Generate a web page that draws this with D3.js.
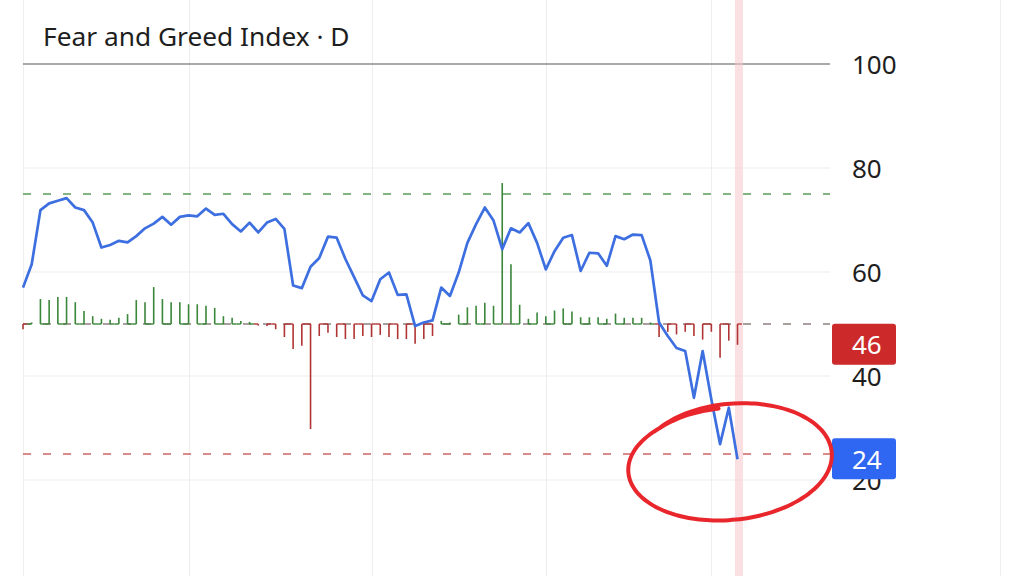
<!DOCTYPE html>
<html>
<head>
<meta charset="utf-8">
<script src="https://cdn.jsdelivr.net/npm/d3@7"></script>
<style>
	html, body { margin: 0; padding: 0; background: #fff; }
	#wrapper { width: 1024px; height: 576px; overflow: hidden; }
	text { font-family: "Noto Sans", Roboto, sans-serif; }
</style>
</head>
<body>
<div id="wrapper"></div>
<script>
/////////////////////////////////////////////////
// data /////////////////////////////////////////
/////////////////////////////////////////////////

// daily fear & greed reading (one per trading day)
const fgIndex = [
	57.0, 61.5, 71.9, 73.2, 73.7, 74.2, 72.4, 71.9, 69.5, 64.7,
	65.2, 66.0, 65.7, 66.9, 68.4, 69.3, 70.6, 69.1, 70.6, 70.9,
	70.7, 72.2, 71.0, 71.2, 69.2, 67.8, 69.5, 67.6, 69.5, 70.2,
	68.3, 57.4, 56.9, 61.0, 62.7, 66.8, 66.6, 62.5, 59.0, 55.5,
	54.4, 58.6, 59.9, 55.6, 55.7, 49.6, 50.3, 50.7, 57.0, 55.4,
	59.9, 65.6, 69.2, 72.4, 69.9, 64.4, 68.4, 67.6, 69.4, 65.6,
	60.5, 64.0, 66.6, 67.1, 60.2, 63.7, 63.6, 61.2, 66.9, 66.3,
	67.2, 67.1, 62.2, 50.3, 47.7, 45.4, 44.8, 35.8, 44.8, 35.5,
	26.9, 33.9, 24.0
];

// histogram drawn around the 50 base
const histValues = [
	49.0, 50.3, 54.8, 54.6, 55.2, 55.2, 54.2, 52.5, 51.5, 51.0,
	50.8, 51.2, 51.9, 54.6, 54.2, 57.1, 54.8, 54.2, 54.2, 53.8,
	53.8, 53.5, 53.1, 51.5, 51.2, 50.6, 50.4, 49.7, 49.6, 49.0,
	47.5, 45.2, 45.8, 29.8, 47.7, 48.3, 47.5, 47.1, 47.1, 47.7,
	47.5, 47.9, 47.5, 47.1, 47.1, 46.2, 47.1, 47.7, 50.6, 50.3,
	51.8, 53.2, 53.5, 54.1, 53.5, 77.1, 61.5, 53.7, 51.0, 52.2,
	51.5, 52.6, 53.0, 52.4, 51.3, 51.3, 51.3, 51.0, 52.0, 51.2,
	51.2, 51.2, 50.3, 47.5, 48.5, 48.0, 48.5, 47.7, 47.0, 48.5,
	43.5, 46.8, 46.0
];

const histBase = 50;
const yTicks = [0, 20, 40, 60, 80, 100];
const levels = [75, 50, 25];
const monthStarts = [0, 19, 40, 60, 79];

// hand drawn circle around the last readings (data units)
const markCenter = { i: 80.6, v: 23.9 };
const markRadius = { i: 12.4, v: 11.8 };

/////////////////////////////////////////////////
// dimensions ///////////////////////////////////
/////////////////////////////////////////////////

const dimensions = {
	width: 1024,
	height: 576,
	plotLeft: 23,
	plotRight: 830,
	lastX: 737.5
};

const wrapper = d3
	.select("#wrapper")
	.append("svg")
	.attr("width", dimensions.width)
	.attr("height", dimensions.height);

/////////////////////////////////////////////////
// scales ///////////////////////////////////////
/////////////////////////////////////////////////

const xScale = d3
	.scaleLinear()
	.domain([0, fgIndex.length - 1])
	.range([dimensions.plotLeft, dimensions.lastX]);

const yScale = d3.scaleLinear().domain([0, 100]).range([584, 64]);

const step = xScale(1) - xScale(0);

/////////////////////////////////////////////////
// grid /////////////////////////////////////////
/////////////////////////////////////////////////

wrapper
	.append("g")
	.selectAll("line")
	.data(monthStarts)
	.join("line")
	.attr("x1", (d) => Math.round(xScale(d)) + 0.5)
	.attr("x2", (d) => Math.round(xScale(d)) + 0.5)
	.attr("y1", 0)
	.attr("y2", dimensions.height)
	.attr("stroke", "#efefef")
	.attr("stroke-width", 1.2);

// right edge of the pane
wrapper
	.append("line")
	.attr("x1", 1000.5)
	.attr("x2", 1000.5)
	.attr("y1", 0)
	.attr("y2", dimensions.height)
	.attr("stroke", "#efefef")
	.attr("stroke-width", 1.2);

wrapper
	.append("g")
	.selectAll("line")
	.data(yTicks.filter((d) => d > 0 && d < 100))
	.join("line")
	.attr("x1", dimensions.plotLeft)
	.attr("x2", dimensions.plotRight)
	.attr("y1", (d) => yScale(d))
	.attr("y2", (d) => yScale(d))
	.attr("stroke", "#eeeeee")
	.attr("stroke-width", 1.2);

// top limit line
wrapper
	.append("line")
	.attr("x1", dimensions.plotLeft)
	.attr("x2", dimensions.plotRight)
	.attr("y1", yScale(100))
	.attr("y2", yScale(100))
	.attr("stroke", "#8c8c8c")
	.attr("stroke-width", 1.5);

// highlighted last day
wrapper
	.append("rect")
	.attr("x", xScale(fgIndex.length - 1) - 2.5)
	.attr("y", 0)
	.attr("width", 8)
	.attr("height", dimensions.height)
	.attr("fill", "#f7c6cc")
	.attr("opacity", 0.55);

/////////////////////////////////////////////////
// level lines //////////////////////////////////
/////////////////////////////////////////////////

const levelColor = { 75: "#5a9a5a", 50: "#8e8080", 25: "#cf6464" };

wrapper
	.append("g")
	.selectAll("line")
	.data(levels)
	.join("line")
	.attr("x1", dimensions.plotLeft)
	.attr("x2", dimensions.plotRight)
	.attr("y1", (d) => yScale(d))
	.attr("y2", (d) => yScale(d))
	.attr("stroke", (d) => levelColor[d])
	.attr("stroke-width", 1.3)
	.attr("stroke-dasharray", "8 12");

/////////////////////////////////////////////////
// histogram ////////////////////////////////////
/////////////////////////////////////////////////

const barColor = (v) => (v >= histBase ? "#3a863a" : "#b03434");

const bars = wrapper.append("g").attr("class", "bars");

bars
	.selectAll("line.stem")
	.data(histValues)
	.join("line")
	.attr("class", "stem")
	.attr("x1", (d, i) => xScale(i))
	.attr("x2", (d, i) => xScale(i))
	.attr("y1", yScale(histBase))
	.attr("y2", (d) => yScale(d))
	.attr("stroke", barColor)
	.attr("stroke-width", 1.6);

// little base segments that pair the bars up
bars
	.selectAll("line.foot")
	.data(histValues)
	.join("line")
	.attr("class", "foot")
	.attr("x1", (d, i) => xScale(i))
	.attr("x2", (d, i) => xScale(i) + (i % 2 === 0 ? step / 2 : -step / 2))
	.attr("y1", yScale(histBase))
	.attr("y2", yScale(histBase))
	.attr("stroke", barColor)
	.attr("stroke-width", 1.4);

/////////////////////////////////////////////////
// index line ///////////////////////////////////
/////////////////////////////////////////////////

const lineGenerator = d3
	.line()
	.x((d, i) => xScale(i))
	.y((d) => yScale(d));

wrapper
	.append("path")
	.datum(fgIndex)
	.attr("d", lineGenerator)
	.attr("fill", "none")
	.attr("stroke", "#3d6fe0")
	.attr("stroke-width", 2.7)
	.attr("stroke-linejoin", "round");

/////////////////////////////////////////////////
// axis /////////////////////////////////////////
/////////////////////////////////////////////////

const yAxisGenerator = d3
	.axisRight()
	.scale(yScale)
	.tickValues(yTicks)
	.tickSize(0)
	.tickPadding(0);

const yAxis = wrapper
	.append("g")
	.attr("transform", "translate(852,0)")
	.call(yAxisGenerator);

yAxis.select(".domain").remove();
yAxis
	.selectAll("text")
	.attr("fill", "#1e1e1e")
	.style("font-family", "'Noto Sans', Roboto, sans-serif")
	.style("font-size", "26px")
	.attr("dy", "0.36em");

/////////////////////////////////////////////////
// last value labels ////////////////////////////
/////////////////////////////////////////////////

const lastLabels = [
	{ value: histValues[histValues.length - 1], color: "#cc2a2a" },
	{ value: fgIndex[fgIndex.length - 1], color: "#2f66f2" }
];

const labelGroups = wrapper
	.append("g")
	.selectAll("g")
	.data(lastLabels)
	.join("g")
	.attr("transform", (d) => `translate(832,${yScale(d.value)})`);

labelGroups
	.append("rect")
	.attr("x", 0)
	.attr("y", -21)
	.attr("width", 64)
	.attr("height", 41)
	.attr("rx", 3)
	.attr("fill", (d) => d.color);

labelGroups
	.append("text")
	.attr("x", 20)
	.attr("dy", "0.36em")
	.attr("fill", "#fff")
	.style("font-size", "26px")
	.text((d) => d3.format(".0f")(d.value));

/////////////////////////////////////////////////
// title ////////////////////////////////////////
/////////////////////////////////////////////////

wrapper
	.append("text")
	.attr("x", 43)
	.attr("y", 46)
	.attr("fill", "#1e1e1e")
	.style("font-size", "26.3px")
	.text("Fear and Greed Index · D");

/////////////////////////////////////////////////
// annotation ///////////////////////////////////
/////////////////////////////////////////////////

// one loop and a bit, pen starting inside the ring
const cx = xScale(markCenter.i);
const cy = yScale(markCenter.v);
const rx = xScale(markRadius.i) - xScale(0);
const ry = yScale(0) - yScale(markRadius.v);
const tilt = (-5 * Math.PI) / 180;
const t0 = -2.35;
const t1 = t0 + Math.PI * 2 * 1.12;

const markPoints = d3.range(0, 1.0001, 0.01).map((p) => {
	const t = t0 + (t1 - t0) * p;
	const k = 0.84 + 0.16 * Math.sin(Math.PI * Math.min(1, p * 1.12));
	const ex = rx * k * Math.cos(t);
	const ey = ry * k * Math.sin(t);
	return [
		cx + ex * Math.cos(tilt) - ey * Math.sin(tilt),
		cy + ex * Math.sin(tilt) + ey * Math.cos(tilt)
	];
});

wrapper
	.append("path")
	.attr("d", d3.line().curve(d3.curveBasis)(markPoints))
	.attr("fill", "none")
	.attr("stroke", "#e8262b")
	.attr("stroke-width", 4)
	.attr("stroke-linecap", "round");
</script>
</body>
</html>
